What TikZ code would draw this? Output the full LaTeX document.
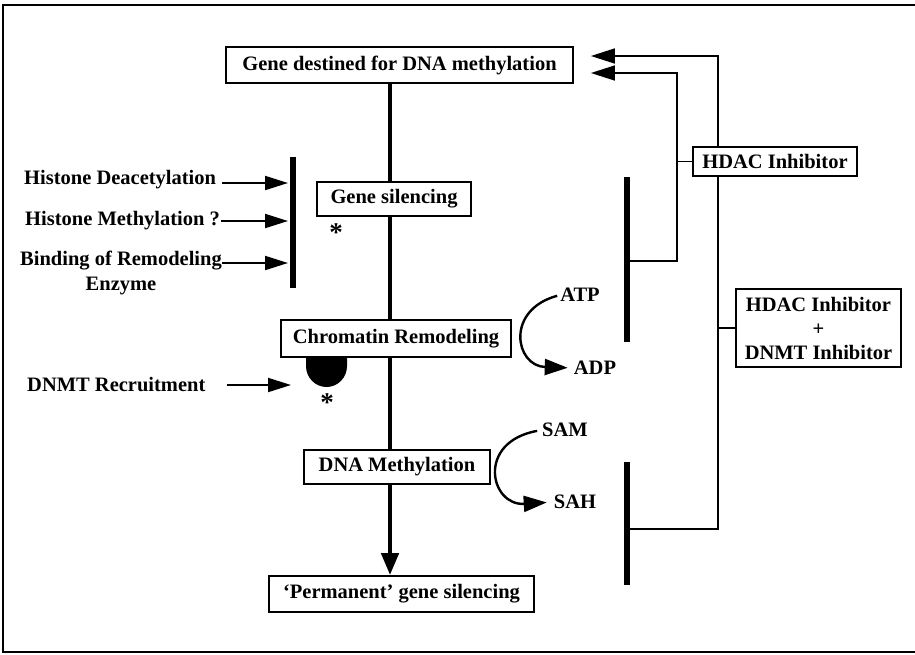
\documentclass[tikz,border=0pt]{standalone}
\usepackage{fontspec}
\setmainfont{Liberation Serif}
\usetikzlibrary{arrows.meta,backgrounds}
\begin{document}
\begin{tikzpicture}[x=1pt,y=-1pt,
  every node/.style={font=\fontsize{20.5}{24}\selectfont\bfseries, inner sep=0pt},
  box/.style={draw, line width=1.8pt, fill=white},
  star/.style={font=\fontsize{27}{30}\selectfont\bfseries},
  mainline/.style={line width=4.5pt},
  barline/.style={line width=6pt},
  conn/.style={line width=1.6pt},
  sidearrow/.style={line width=2pt, -{Triangle[length=23pt,width=14pt]}},
  toparrow/.style={conn, -{Triangle[length=24pt,width=15pt]}},
  curvearrow/.style={line width=2.4pt, -{Triangle[length=23pt,width=16pt]}},
  lbl/.style={anchor=west}]
\useasboundingbox (0,0) rectangle (915,654);
% frame
\draw[line width=2pt] (915,5) -- (3,5) -- (3,652) -- (915,652);

% boxes
\node[box, minimum width=347, minimum height=36] (gene) at (399.5,65) {Gene destined for DNA methylation};
\node[box, minimum width=154, minimum height=34] (sil) at (394,199) {Gene silencing};
\node[box, minimum width=230, minimum height=37] (chrom) at (396,338.5) {Chromatin Remodeling};
\node[box, minimum width=186, minimum height=34] (dnam) at (397,467) {DNA Methylation};
\node[box, minimum width=265, minimum height=36] (perm) at (401.5,594) {‘Permanent’ gene silencing};
\node[box, minimum width=164, minimum height=29] (hdac) at (775,161.5) {HDAC Inhibitor};
\node[box, minimum width=165, minimum height=78, align=center] (combo) at (818.5,328) {HDAC Inhibitor\\+\\DNMT Inhibitor};

% left texts
\node[lbl] (hd) at (24,180) {Histone Deacetylation};
\node[lbl] (hm) at (25,221) {Histone Methylation ?};
\node[align=center, font=\fontsize{20.5}{25}\selectfont\bfseries] (bind) at (121,273) {Binding of Remodeling\\Enzyme};
\node[lbl] (dnmt) at (27,385) {DNMT Recruitment};

% cofactors
\node (atp) at (580,295) {ATP};
\node (adp) at (595,368) {ADP};
\node (sam) at (565,430) {SAM};
\node (sah) at (575,502) {SAH};

% asterisks
\node[star] (ast1) at (336,233) {*};
\node[star] (ast2) at (327,403) {*};

% coordinates
\coordinate (mx) at (390,0);
\coordinate (lbT) at (293,157);
\coordinate (lbB) at (293,288);
\coordinate (rb1T) at (627,177);
\coordinate (rb1B) at (627,342);
\coordinate (rb2T) at (627,462);
\coordinate (rb2B) at (627,585);
\coordinate (a1) at (222,183);
\coordinate (a2) at (221,221);
\coordinate (a3) at (222,263);
\coordinate (a4) at (227,385);
\coordinate (a4e) at (291,385);
\coordinate (A1) at (677,261);
\coordinate (A2) at (677,73);
\coordinate (B1) at (718,529);
\coordinate (B2) at (718,56);

\begin{scope}[on background layer]
  % main pathway
  \draw[mainline] (gene.south -| mx) -- (sil.north -| mx);
  \draw[mainline] (sil.south -| mx) -- (chrom.north -| mx);
  \draw[mainline] (chrom.south -| mx) -- (dnam.north -| mx);
  \draw[mainline, -{Triangle[length=22pt,width=17pt]}] (dnam.south -| mx) -- (perm.north -| mx);
  % inhibitor connectors
  \draw[toparrow, shorten >=17pt] (A1 -| rb1T) -- (A1) -- (A2) -- (A2 -| gene.east);
  \draw[conn] (hdac.west) -- (hdac.west -| A1);
  \draw[toparrow, shorten >=17pt] (B1 -| rb2T) -- (B1) -- (B2) -- (B2 -| gene.east);
  \draw[conn] (combo.west) -- (combo.west -| B1);
\end{scope}

% bars
\draw[barline] (lbT) -- (lbB);
\draw[barline] (rb1T) -- (rb1B);
\draw[barline] (rb2T) -- (rb2B);

% side arrows
\draw[sidearrow] (a1) -- ([xshift=-5pt]a1 -| lbT);
\draw[sidearrow] (a2) -- ([xshift=-5pt]a2 -| lbT);
\draw[sidearrow] (a3) -- ([xshift=-5pt]a3 -| lbT);
\draw[sidearrow] (a4) -- (a4e);

% DNMT bound to chromatin
\fill (chrom.south -| 306,0) -- (306,366) arc[start angle=180, end angle=0, x radius=20.5, y radius=21] -- (chrom.south -| 347,0) -- cycle;

% cofactor curves
\draw[curvearrow, shorten <=3pt, shorten >=6pt] (atp.west) .. controls (505,310) and (515,366) .. (adp.west);
\draw[curvearrow, shorten <=5pt, shorten >=7pt] (sam.west) .. controls (476,442) and (490,506) .. (sah.west);
\end{tikzpicture}
\end{document}
